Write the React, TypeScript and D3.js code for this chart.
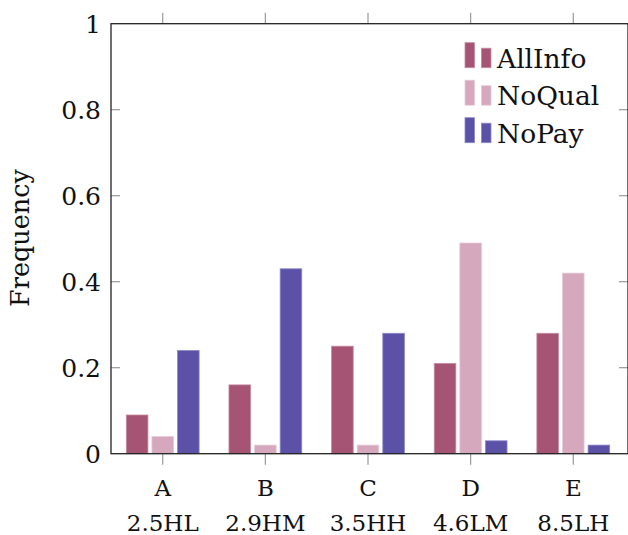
import React from "react";
import * as d3 from "d3";

const categories = ["A", "B", "C", "D", "E"];
const subLabels = ["2.5HL", "2.9HM", "3.5HH", "4.6LM", "8.5LH"];
const seriesNames = ["AllInfo", "NoQual", "NoPay"];
const allInfo = [0.09, 0.16, 0.25, 0.21, 0.28];
const noQual = [0.04, 0.02, 0.02, 0.49, 0.42];
const noPay = [0.24, 0.43, 0.28, 0.03, 0.02];
const yTicks = [0, 0.2, 0.4, 0.6, 0.8, 1];

const fills = ["#a65474", "#d5a8bd", "#5b52a8"];
const strokes = ["#c58aa2", "#e6cad7", "#8d87c9"];

const W = 628;
const H = 535;
const left = 111;
const right = 628;
const top = 23.7;
const bottom = 453.7;
const font = "DejaVu Serif";

export default function App() {
  const series = [allInfo, noQual, noPay];
  const x = d3.scaleLinear().domain([-0.5, 4.5]).range([111.4, 624.6]);
  const y = d3.scaleLinear().domain([0, 1]).range([bottom, top]);
  const barW = 21.6;
  const offsets = [-25.6, 0, 25.6];
  const fmt = (v: number) => (v === 0 || v === 1 ? String(v) : d3.format(".1f")(v));

  return (
    <svg width={W} height={H} style={{ position: "absolute", left: 0, top: 0 }}>
      <rect x={0} y={0} width={W} height={H} fill="#fff" />
      {series.map((vals, si) =>
        vals.map((v, ci) => (
          <rect
            key={`${si}-${ci}`}
            x={x(ci) + offsets[si] - barW / 2}
            y={y(v)}
            width={barW}
            height={bottom - y(v)}
            fill={fills[si]}
            stroke={strokes[si]}
            strokeWidth={0.8}
          />
        ))
      )}
      {yTicks.map((t) => (
        <g key={t}>
          {t > 0 && t < 1 && (
            <>
              <line x1={left} x2={left + 9} y1={y(t)} y2={y(t)} stroke="#999" strokeWidth={1.2} />
              <line x1={right - 9} x2={right} y1={y(t)} y2={y(t)} stroke="#999" strokeWidth={1.2} />
            </>
          )}
          <text x={101} y={y(t)} dy="0.36em" textAnchor="end" fontFamily={font} fontSize={25} fill="#111">
            {fmt(t)}
          </text>
        </g>
      ))}
      {categories.map((c, i) => (
        <g key={c}>
          <line x1={x(i)} x2={x(i)} y1={bottom} y2={bottom + 11} stroke="#999" strokeWidth={1.2} />
          <line x1={x(i)} x2={x(i)} y1={top - 11} y2={top} stroke="#999" strokeWidth={1.2} />
          <text x={x(i)} y={495.5} textAnchor="middle" fontFamily={font} fontSize={23} fill="#111">
            {c}
          </text>
          <text x={x(i)} y={530.5} textAnchor="middle" fontFamily={font} fontSize={23} fill="#111">
            {subLabels[i]}
          </text>
        </g>
      ))}
      <rect x={left} y={top} width={right - left} height={bottom - top} fill="none" stroke="#222" strokeWidth={1.3} />
      <text
        transform={`translate(29,238) rotate(-90)`}
        textAnchor="middle"
        fontFamily={font}
        fontSize={25.5}
        fill="#111"
      >
        Frequency
      </text>
      {seriesNames.map((n, i) => {
        const cy = 67.7 + i * 37.5;
        return (
          <g key={n}>
            <rect x={465} y={cy - 25} width={9.5} height={25} fill={fills[i]} stroke={strokes[i]} strokeWidth={0.8} />
            <rect x={481.5} y={cy - 19.5} width={9.5} height={19.5} fill={fills[i]} stroke={strokes[i]} strokeWidth={0.8} />
            <text x={497} y={cy} fontFamily={font} fontSize={26.5} fill="#111">
              {n}
            </text>
          </g>
        );
      })}
    </svg>
  );
}
